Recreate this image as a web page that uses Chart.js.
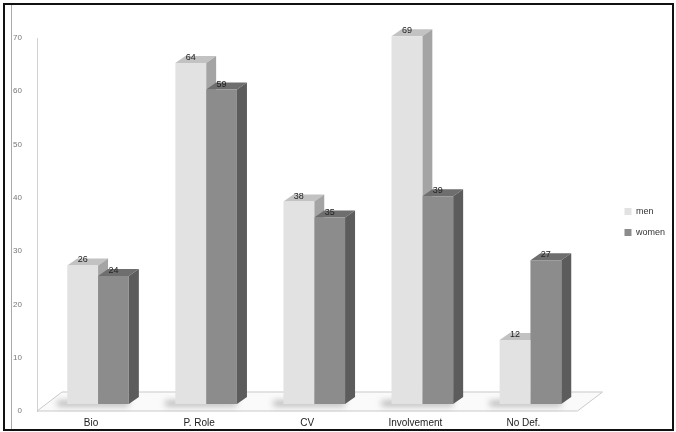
<!DOCTYPE html>
<html>
<head>
<meta charset="utf-8">
<script src="https://cdn.jsdelivr.net/npm/chart.js@4.4.1/dist/chart.umd.min.js"></script>
<style>
  html, body { margin: 0; padding: 0; background: #fff; }
  #wrap { position: relative; width: 676px; height: 432px; }
  #wrap canvas { position: absolute; left: 0; top: 0; }
  #frame { position: absolute; left: 3px; top: 3px; width: 671px; height: 428px; box-sizing: border-box; border: 2px solid #111; pointer-events: none; }
  #inner { position: absolute; left: 11px; top: 5px; height: 424px; border-left: 1px solid #aaa; pointer-events: none; }
</style>
</head>
<body>
<div id="wrap">
  <canvas id="myChart" width="676" height="432"></canvas>
  <div id="frame"></div>
  <div id="inner"></div>
</div>
<script>
// data
const categories = ['Bio', 'P. Role', 'CV', 'Involvement', 'No Def.'];
const menValues = [26, 64, 38, 69, 12];
const womenValues = [24, 59, 35, 39, 27];
const yTicks = [0, 10, 20, 30, 40, 50, 60, 70];

// fake 3d look
const DX = 10, DY = -7;       // depth of each bar
const SHIFT_X = 7, SHIFT_Y = -7; // bars sit halfway back on the floor
const faceColors = [
  { top: '#c2c2c2', side: '#a4a4a4' },
  { top: '#6e6e6e', side: '#5c5c5c' }
];

const bar3d = {
  id: 'bar3d',
  beforeDatasetsDraw(chart) {
    const ctx = chart.ctx, a = chart.chartArea;
    // floor
    ctx.save();
    ctx.beginPath();
    ctx.moveTo(a.left, a.bottom);
    ctx.lineTo(a.right, a.bottom);
    ctx.lineTo(a.right + 25, a.bottom - 19);
    ctx.lineTo(a.left + 25, a.bottom - 19);
    ctx.closePath();
    ctx.fillStyle = '#fafafa';
    ctx.fill();
    ctx.strokeStyle = '#c9c9c9';
    ctx.lineWidth = 1;
    ctx.stroke();
    ctx.restore();

    ctx.save(); // restored in afterDatasetsDraw
    ctx.translate(SHIFT_X, SHIFT_Y);

    // shadows on the floor
    const m0 = chart.getDatasetMeta(0).data, m1 = chart.getDatasetMeta(1).data;
    ctx.save();
    ctx.filter = 'blur(3px)';
    ctx.fillStyle = 'rgba(0,0,0,0.3)';
    m0.forEach((bar, i) => {
      const l = bar.x - bar.width / 2 - 10;
      const r = m1[i].x + m1[i].width / 2;
      ctx.fillRect(l, bar.base - 3, r - l, 5);
    });
    ctx.restore();

    chart.data.datasets.forEach((ds, i) => {
      const c = faceColors[i];
      chart.getDatasetMeta(i).data.forEach(bar => {
        const l = bar.x - bar.width / 2, r = bar.x + bar.width / 2;
        const t = bar.y, b = bar.base;
        ctx.beginPath();
        ctx.moveTo(l, t);
        ctx.lineTo(l + DX, t + DY);
        ctx.lineTo(r + DX, t + DY);
        ctx.lineTo(r, t);
        ctx.closePath();
        ctx.fillStyle = c.top;
        ctx.fill();
        ctx.beginPath();
        ctx.moveTo(r, t);
        ctx.lineTo(r + DX, t + DY);
        ctx.lineTo(r + DX, b + DY);
        ctx.lineTo(r, b);
        ctx.closePath();
        ctx.fillStyle = c.side;
        ctx.fill();
      });
    });
  },
  afterDatasetsDraw(chart) {
    const ctx = chart.ctx;
    ctx.font = '9px "Liberation Sans", Arial, sans-serif';
    ctx.fillStyle = '#222';
    ctx.textAlign = 'center';
    ctx.textBaseline = 'alphabetic';
    chart.data.datasets.forEach((ds, i) => {
      chart.getDatasetMeta(i).data.forEach((bar, j) => {
        ctx.fillText(ds.data[j], bar.x, bar.y - 3);
      });
    });
    ctx.restore();
  }
};

const ctx1 = document.getElementById('myChart');

new Chart(ctx1, {
  type: 'bar',
  data: {
    labels: categories,
    datasets: [
      { label: 'men', data: menValues, backgroundColor: '#e2e2e2', borderWidth: 0, clip: false },
      { label: 'women', data: womenValues, backgroundColor: '#8c8c8c', borderWidth: 0, clip: false }
    ]
  },
  options: {
    responsive: false,
    animation: false,
    devicePixelRatio: 1,
    categoryPercentage: 0.57,
    barPercentage: 1,
    layout: { padding: { left: 12, top: 12, right: 1, bottom: 0 } },
    plugins: {
      tooltip: { enabled: false },
      legend: {
        position: 'right',
        labels: {
          boxWidth: 7,
          boxHeight: 7,
          padding: 12,
          color: '#333',
          font: { size: 9, family: '"Liberation Sans", Arial, sans-serif' }
        }
      }
    },
    scales: {
      x: {
        grid: { display: false, drawTicks: false },
        border: { display: false },
        ticks: {
          color: '#222',
          padding: 6,
          font: { size: 10, family: '"Liberation Sans", Arial, sans-serif' }
        },
        afterFit(scale) { scale.height = 21; }
      },
      y: {
        min: 0,
        max: 70,
        grid: { display: false },
        border: { display: true, color: '#d2d2d2' },
        afterBuildTicks(scale) { scale.ticks = yTicks.map(v => ({ value: v })); },
        ticks: {
          color: '#777',
          padding: 7,
          font: { size: 8, family: '"Liberation Sans", Arial, sans-serif' }
        },
        afterFit(scale) { scale.width = 25; }
      },
      // empty space above the plot
      topGap: {
        position: 'top',
        grid: { display: false },
        border: { display: false },
        ticks: { display: false },
        afterFit(scale) { scale.height = 26; }
      },
      // empty gap between the floor and the legend
      gap: {
        position: 'right',
        grid: { display: false },
        border: { display: false },
        ticks: { display: false },
        afterFit(scale) { scale.width = 35; }
      }
    }
  },
  plugins: [bar3d]
});
</script>
</body>
</html>
